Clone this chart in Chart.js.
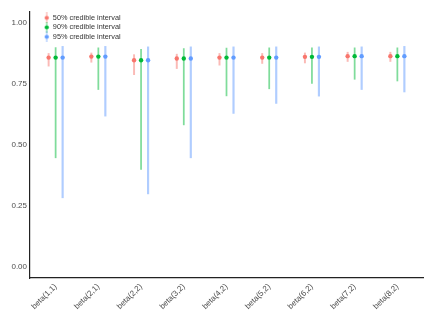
<!DOCTYPE html>
<html>
<head>
<meta charset="utf-8">
<script src="https://cdn.jsdelivr.net/npm/chart.js@4/dist/chart.umd.min.js"></script>
<style>
  html, body { margin: 0; padding: 0; background: #fff; }
</style>
</head>
<body>
<canvas id="chart" width="440" height="324"></canvas>
<script>
// posterior summaries per parameter
const labels = ["beta(1,1)", "beta(2,1)", "beta(2,2)", "beta(3,2)", "beta(4,2)", "beta(5,2)", "beta(6,2)", "beta(7,2)", "beta(8,2)"];
const median = [0.858, 0.862, 0.847, 0.854, 0.858, 0.858, 0.861, 0.864, 0.864];
const lo50 = [0.823, 0.839, 0.788, 0.813, 0.827, 0.834, 0.836, 0.842, 0.842];
const hi50 = [0.875, 0.877, 0.870, 0.872, 0.875, 0.875, 0.877, 0.880, 0.880];
const lo90 = [0.447, 0.727, 0.399, 0.582, 0.701, 0.730, 0.752, 0.769, 0.762];
const hi90 = [0.899, 0.898, 0.892, 0.895, 0.897, 0.898, 0.898, 0.898, 0.898];
const lo95 = [0.283, 0.618, 0.299, 0.447, 0.629, 0.670, 0.700, 0.727, 0.717];
const hi95 = [0.904, 0.904, 0.902, 0.902, 0.902, 0.902, 0.902, 0.902, 0.904];
const yTicks = [0, 0.25, 0.5, 0.75, 1];

const intervals = [
    { name: "50% credible interval", lo: lo50, hi: hi50, color: "248, 118, 109", dodge: -0.164, width: 1.3 },
    { name: "90% credible interval", lo: lo90, hi: hi90, color: "0, 186, 56", dodge: 0, width: 1.1 },
    { name: "95% credible interval", lo: lo95, hi: hi95, color: "97, 156, 255", dodge: 0.164, width: 1.5 }
];

// little legend key: vertical line with a dot
const makeKey = (color) => {
    const c = document.createElement("canvas");
    c.width = 6;
    c.height = 11;
    const g = c.getContext("2d");
    g.strokeStyle = "rgba(" + color + ", 0.5)";
    g.lineWidth = 1.3;
    g.beginPath();
    g.moveTo(3, 0);
    g.lineTo(3, 11);
    g.stroke();
    g.fillStyle = "rgb(" + color + ")";
    g.beginPath();
    g.arc(3, 5.5, 2.1, 0, Math.PI * 2);
    g.fill();
    return c;
};

const datasets = [];
intervals.forEach((iv) => {
    datasets.push({
        type: "bar",
        label: iv.name,
        data: labels.map((l, i) => ({ x: i + 1 + iv.dodge, y: [iv.lo[i], iv.hi[i]] })),
        backgroundColor: "rgba(" + iv.color + ", 0.5)",
        borderWidth: 0,
        barThickness: iv.width,
        grouped: false,
        order: 2
    });
});
intervals.forEach((iv) => {
    datasets.push({
        type: "scatter",
        label: iv.name + " point",
        data: labels.map((l, i) => ({ x: i + 1 + iv.dodge, y: median[i] })),
        backgroundColor: "rgb(" + iv.color + ")",
        borderWidth: 0,
        pointRadius: 2.2,
        order: 1
    });
});

const keys = intervals.map((iv) => makeKey(iv.color));

// put the legend box in the upper-left corner of the panel
const legendSpot = {
    id: "legendSpot",
    afterLayout: (chart) => {
        chart.legend.left = 42;
        chart.legend.top = 12;
    }
};

const config = {
    type: "bar",
    data: { datasets: datasets },
    plugins: [legendSpot],
    options: {
        responsive: false,
        animation: false,
        layout: { padding: { top: 12, right: 17, left: 0, bottom: 0 } },
        plugins: {
            tooltip: { enabled: false },
            legend: {
                position: "chartArea",
                align: "start",
                labels: {
                    usePointStyle: true,
                    boxWidth: 5,
                    boxHeight: 7,
                    padding: 2.2,
                    color: "#333",
                    font: { family: "Liberation Sans", size: 7.3 },
                    generateLabels: () => intervals.map((iv, i) => ({
                        text: iv.name,
                        pointStyle: keys[i],
                        fillStyle: "transparent",
                        strokeStyle: "transparent",
                        fontColor: "#333",
                        lineWidth: 0,
                        hidden: false,
                        datasetIndex: i
                    }))
                }
            }
        },
        scales: {
            x: {
                type: "linear",
                min: 0.4,
                max: 9.6,
                offset: false,
                grid: { display: false, drawTicks: false },
                border: { display: true, color: "#222", width: 1.2 },
                afterBuildTicks: (axis) => {
                    axis.ticks = labels.map((l, i) => ({ value: i + 1 }));
                },
                afterFit: (axis) => { axis.height = 46; },
                ticks: {
                    autoSkip: false,
                    minRotation: 45,
                    maxRotation: 45,
                    padding: 4,
                    color: "#4d4d4d",
                    font: { family: "Liberation Sans", size: 8 },
                    callback: (v) => labels[Math.round(v) - 1]
                }
            },
            y: {
                min: -0.046,
                max: 1.045,
                grid: { display: false, drawTicks: false },
                border: { display: true, color: "#222", width: 1.2 },
                afterBuildTicks: (axis) => {
                    axis.ticks = yTicks.map((v) => ({ value: v }));
                },
                afterFit: (axis) => { axis.width = 30; },
                ticks: {
                    padding: 3,
                    color: "#4d4d4d",
                    font: { family: "Liberation Sans", size: 8 },
                    callback: (v) => v.toFixed(2)
                }
            }
        }
    }
};

new Chart(document.getElementById("chart"), config);
</script>
</body>
</html>
